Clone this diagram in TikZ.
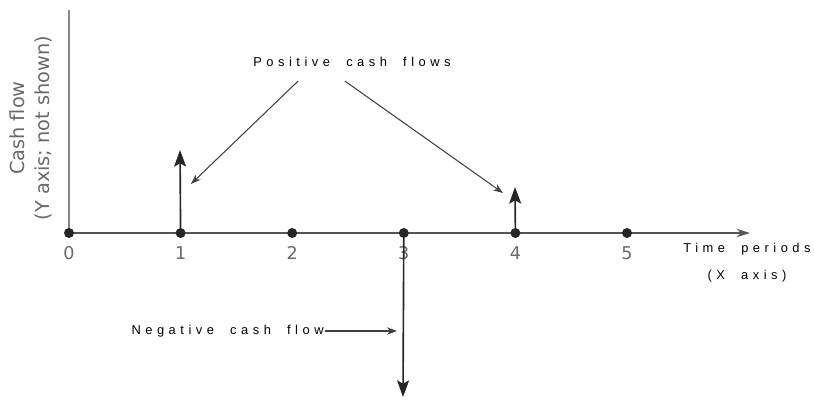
\documentclass[tikz,border=0pt]{standalone}
\usepackage{fontspec}
\usetikzlibrary{arrows.meta, positioning, calc}
\newfontfamily\notefont[LetterSpace=35, WordSpace=2]{Liberation Sans}
\newfontfamily\axisfont{DejaVu Sans}
\definecolor{axisgray}{RGB}{85,85,85}
\definecolor{lightaxis}{RGB}{135,135,135}
\definecolor{ticknum}{RGB}{105,105,105}

\begin{document}
\begin{tikzpicture}[x=0.03cm, y=-0.03cm,
  dot/.style={circle, fill=black!85, inner sep=0pt, minimum size=0.3cm},
  timeaxis/.style={draw=axisgray, line width=2pt, -{Stealth[length=0.4cm, width=0.25cm]}},
  flow/.style={draw=black!85, line width=1.4pt, -{Stealth[length=0.5cm, width=0.36cm, inset=0.1cm]}},
  pointer/.style={draw=black!75, line width=0.9pt, -{Stealth[length=0.3cm, width=0.22cm]}},
  tick/.style={text=ticknum, font=\axisfont\fontsize{15}{15}\selectfont},
  note/.style={font=\notefont\fontsize{11}{23}\selectfont, inner sep=1pt}]
  \useasboundingbox (0,0) rectangle (814,401);

  % axes
  \coordinate (origin) at (69,233);
  \coordinate (xend) at (750,233);
  \coordinate (ytop) at (69,10);
  \draw[lightaxis, line width=1.5pt] (origin) -- (ytop);
  \draw[timeaxis] (origin) -- (xend);
  \node[rotate=90, align=center, text=ticknum,
    font=\axisfont\fontsize{16.5}{21}\selectfont] (ylabel) at (31,128)
    {Cash flow\\(Y axis; not shown)};

  % time periods
  \foreach \t in {0,...,5} {
    \node[dot] (t\t) at ({69+111.6*\t},233) {};
    \node[tick, below=0.13cm of t\t] (n\t) {\t};
  }
  \node[note, align=center] (time) at (747,263) {Time periods\\(X axis)};

  % cash flows
  \coordinate (up1) at (180,150);
  \coordinate (up4) at (515,187);
  \coordinate (down3) at (403,397);
  \draw[flow] (t1) -- (up1);
  \draw[flow] (t4) -- (up4);
  \draw[flow] (t3) -- (down3);

  % notes
  \node[note] (pos) at (352,62) {Positive cash flows};
  \coordinate (pos1) at (191,184);
  \coordinate (pos4) at (503,193);
  \draw[pointer] ($(pos.south)+(-54,13)$) -- (pos1);
  \draw[pointer] ($(pos.south)+(-7,13)$) -- (pos4);

  \node[note, anchor=east] (neg) at (325,331) {Negative cash flow};
  \coordinate (neg3) at (397,331);
  \draw[pointer] (neg) -- (neg3);
\end{tikzpicture}
\end{document}
